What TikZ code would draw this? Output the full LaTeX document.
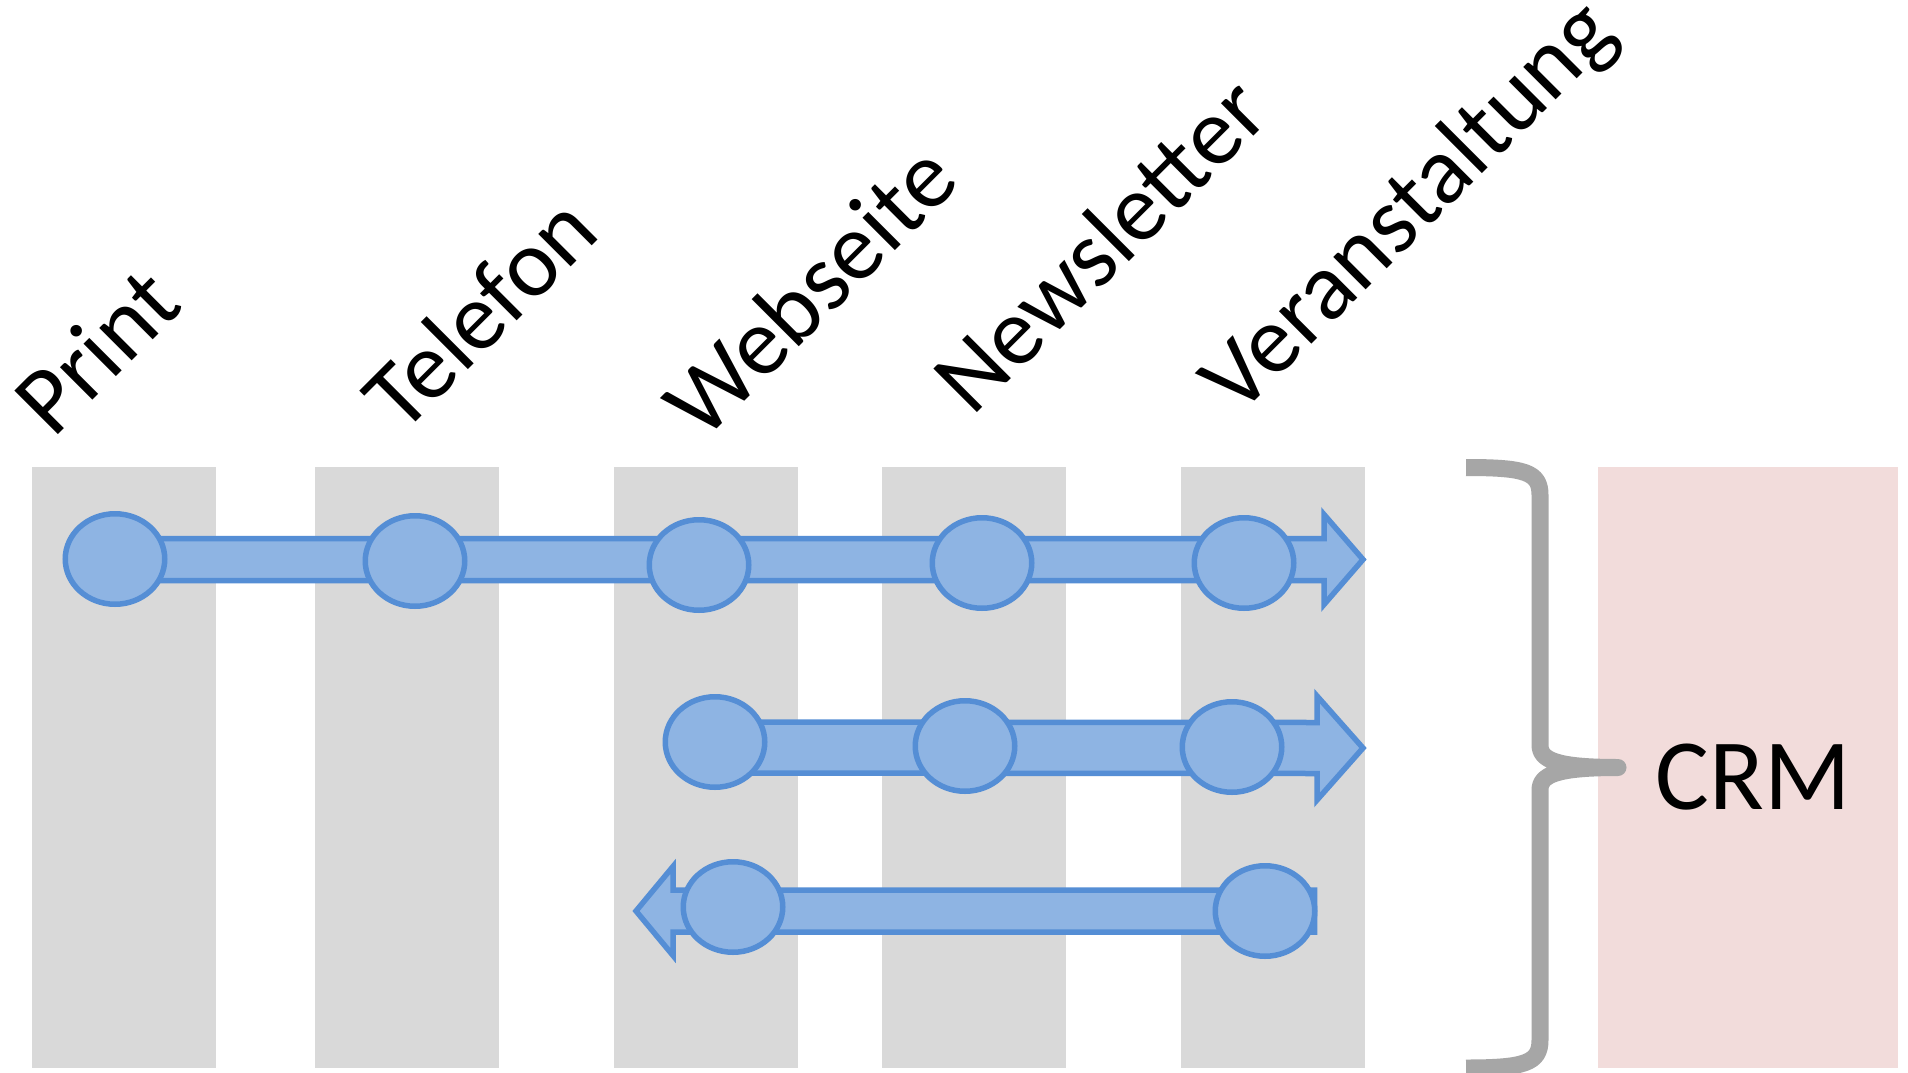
\documentclass[tikz,border=0pt]{standalone}
\usepackage{fontspec}
\setmainfont{Carlito}
\usetikzlibrary{shapes.geometric,calc}
\definecolor{colgray}{HTML}{D9D9D9}
\definecolor{crmpink}{HTML}{F2DCDB}
\definecolor{dotfill}{HTML}{8EB4E3}
\definecolor{dotline}{HTML}{558ED5}
\definecolor{bracegray}{HTML}{A6A6A6}
\newcommand\blockarrow[5]{%
  \draw[barrow] ($(#1)+(0,-#3)$) -- ($(#2)+(#5,-#3)$) -- ($(#2)+(#5,-#4)$) -- (#2)
    -- ($(#2)+(#5,#4)$) -- ($(#2)+(#5,#3)$) -- ($(#1)+(0,#3)$) -- cycle;}
\begin{document}
\begin{tikzpicture}[x=1pt,y=-1pt,
  colbox/.style={rectangle,fill=colgray,draw=none,minimum width=184pt,minimum height=601pt,inner sep=0pt,outer sep=0pt},
  crmbox/.style={rectangle,fill=crmpink,draw=none,minimum width=300pt,minimum height=601pt,inner sep=0pt,outer sep=0pt},
  dotnode/.style={ellipse,fill=dotfill,draw=dotline,line width=5.5pt,minimum width=99.5pt,minimum height=90.5pt,inner sep=0pt},
  barrow/.style={fill=dotfill,draw=dotline,line width=5.5pt,line join=miter},
  lab/.style={font=\fontsize{96}{110}\selectfont,inner sep=0pt,anchor=base west,rotate=45},
  bracestyle/.style={draw=bracegray,line width=17pt,line join=round,line cap=butt}]
\useasboundingbox (0,0) rectangle (1908,1073);
\fill[white] (0,0) rectangle (1908,1073);
% channel columns
\node[colbox] (col1) at (123.5,767.5) {};
\node[colbox] (col2) at (406.5,767.5) {};
\node[colbox] (col3) at (706.25,767.5) {};
\node[colbox] (col4) at (974,767.5) {};
\node[colbox] (col5) at (1273.25,767.5) {};
\node[crmbox] (crmarea) at (1748,767.5) {};
% labels
\node[lab] (lprint) at (53,440) {Print};
\node[lab] (ltel) at (402,436) {Telefon};
\node[lab] (lweb) at (703,443) {Webseite};
\node[lab] (lnews) at (972,418) {Newsletter};
\node[lab] (lver) at (1238,418) {Veranstaltung};
% arrow anchors
\coordinate (a1s) at (115,559.5);
\coordinate (a1t) at (1363,559.5);
\coordinate (a2s) at (715,747.5);
\coordinate (a2t) at (1363,748);
\coordinate (a3s) at (1314.5,911);
\coordinate (a3t) at (636,911);
\blockarrow{a1s}{a1t}{21}{45}{-39}
\blockarrow{a2s}{a2t}{25.5}{52}{-46}
\blockarrow{a3s}{a3t}{21}{44.5}{37}
% touch points
\node[dotnode] (r1a) at (115,559) {};
\node[dotnode] (r1b) at (415,561) {};
\node[dotnode] (r1c) at (699,565) {};
\node[dotnode] (r1d) at (982,563) {};
\node[dotnode] (r1e) at (1244,563) {};
\node[dotnode] (r2a) at (715,742) {};
\node[dotnode] (r2b) at (965,746) {};
\node[dotnode] (r2c) at (1232,747) {};
\node[dotnode] (r3a) at (733,907) {};
\node[dotnode] (r3b) at (1265,911) {};
% brace
\draw[bracestyle] (1466,467.5) .. controls (1525,467.5) and (1540,472) .. (1540,495)
  -- (1540,745) .. controls (1540,760) and (1556,767.5) .. (1618,767.5)
  .. controls (1556,767.5) and (1540,775) .. (1540,790)
  -- (1540,1040) .. controls (1540,1063) and (1525,1068) .. (1466,1068);
\node[font=\fontsize{101}{120}\selectfont,anchor=base,inner sep=0pt] (crm) at (1753,809) {CRM};
\end{tikzpicture}
\end{document}
